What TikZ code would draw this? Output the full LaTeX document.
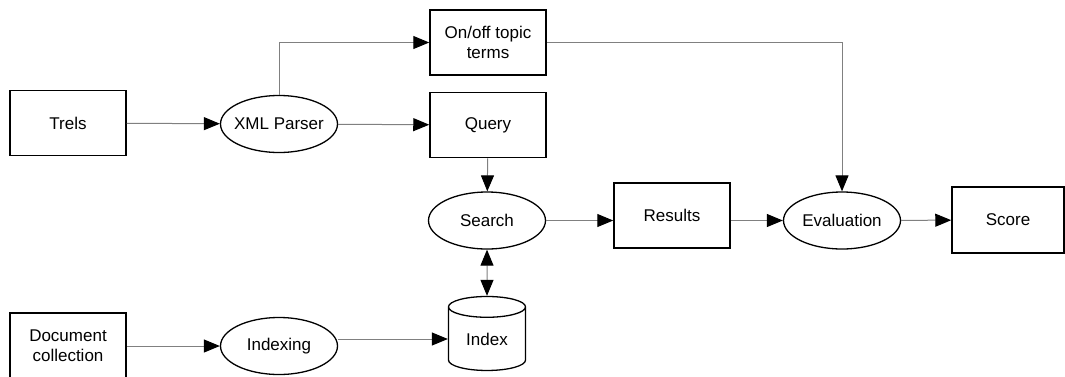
\documentclass[tikz,border=0pt]{standalone}
\usepackage{fontspec}
\setmainfont{Liberation Sans}
\usetikzlibrary{arrows.meta,shapes.geometric}
\begin{document}
\begin{tikzpicture}[x=1pt,y=-1pt]
  \tikzstyle{every node}=[font=\fontsize{17}{20}\selectfont,align=center,inner sep=0pt]
  \tikzstyle{box}=[rectangle,draw,line width=1.5pt,minimum width=116pt,minimum height=65pt]
  \tikzstyle{proc}=[ellipse,draw,line width=1.3pt,inner xsep=-5pt,minimum width=117pt,minimum height=57pt]
  \tikzstyle{store}=[cylinder,shape border rotate=90,aspect=0.5,draw,line width=1.3pt,minimum width=77pt,minimum height=74pt]
  \tikzstyle{flow}=[draw=black!50,line width=1pt,-{Triangle[length=16pt,width=13pt,color=black]}]
  \useasboundingbox (0,0) rectangle (1065,376);
  \node[box] (trels) at (68,123) {Trels};
  \node[proc] (xml) at (279,124) {XML Parser};
  \node[box] (onoff) at (488,42.5) {On/off topic\\terms};
  \node[box] (query) at (488,125) {Query};
  \node[proc] (search) at (487,220.5) {Search};
  \node[box] (results) at (672,215.5) {Results};
  \node[proc] (eval) at (842,220.5) {Evaluation};
  \node[box,minimum width=112pt,minimum height=66pt] (score) at (1008,220) {Score};
  \node[box,minimum height=66pt] (doc) at (68,346) {Document\\collection};
  \node[proc] (indexing) at (279,346) {Indexing};
  \node[store] (index) at (487,339) {Index};
  \draw[flow] (trels) -- (xml);
  \draw[flow] (xml.north) |- (onoff.west);
  \draw[flow] (xml) -- (query);
  \draw[flow] (query) -- (search);
  \draw[flow,{Triangle[length=16pt,width=13pt,color=black]}-{Triangle[length=16pt,width=13pt,color=black]}] (search) -- (index);
  \draw[flow] (search.east) -- (search.east -| results.west);
  \draw[flow] (eval.west -| results.east) -- (eval.west);
  \draw[flow] (onoff.east) -| (eval.north);
  \draw[flow] (eval) -- (score);
  \draw[flow] (doc) -- (indexing);
  \draw[flow] (index.west -| indexing.east) -- (index.west);
\end{tikzpicture}
\end{document}
